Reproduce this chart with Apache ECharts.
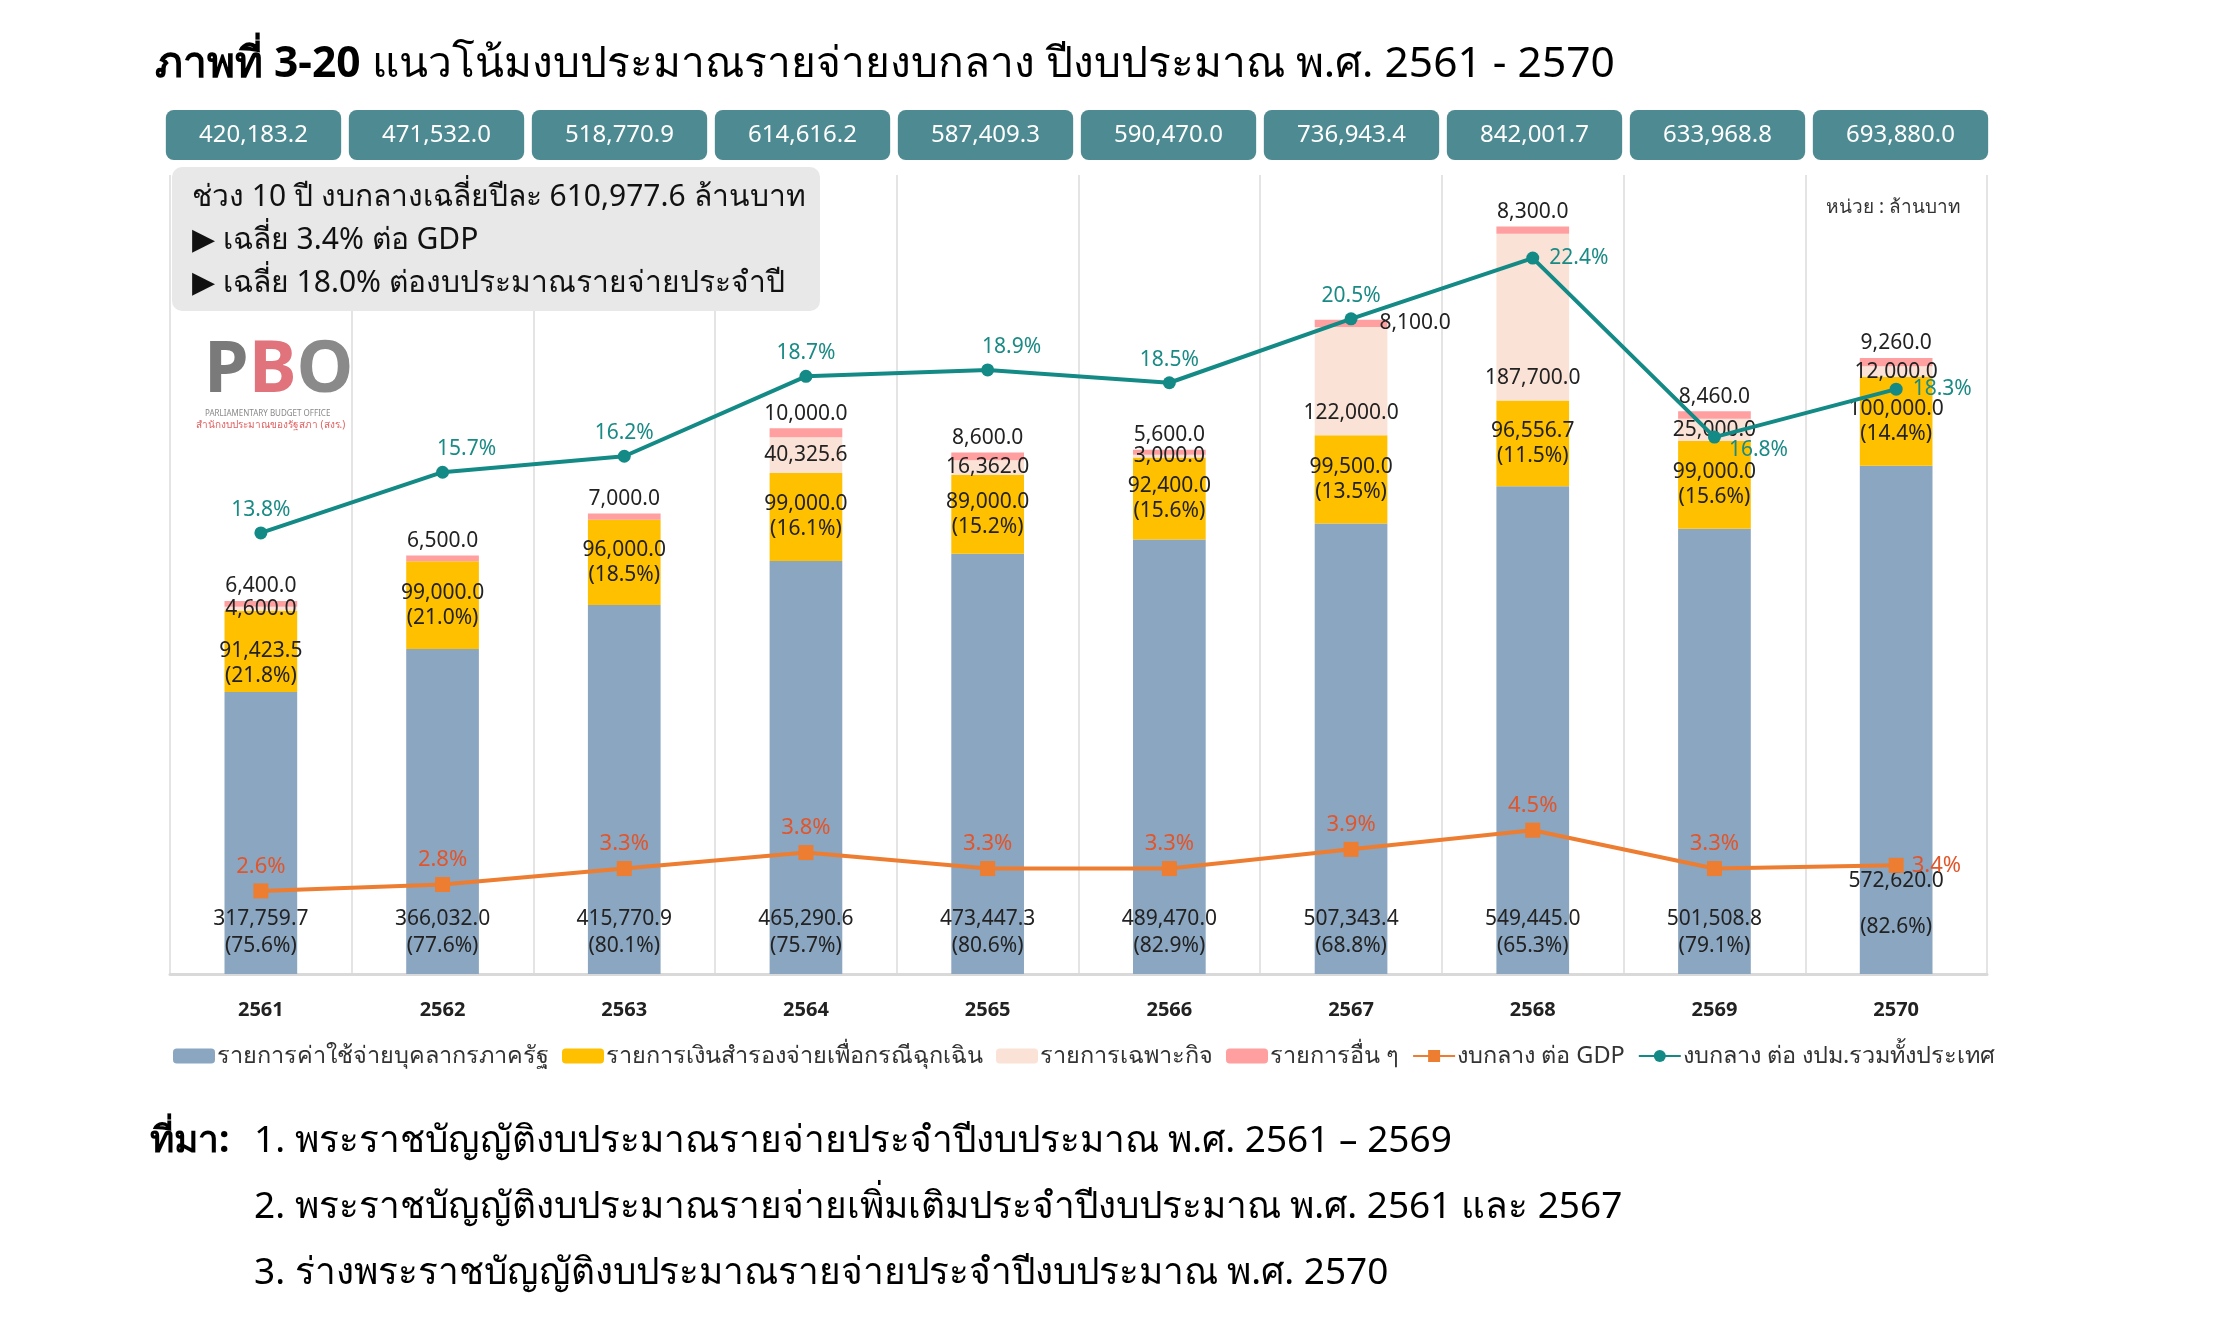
<!DOCTYPE html>
<html>
<head>
<meta charset="utf-8">
<script src="https://cdn.jsdelivr.net/npm/echarts@6.0.0/dist/echarts.min.js"></script>
<style>
  html, body { margin: 0; padding: 0; background: #fff; }
  #chart { width: 2217px; height: 1338px; }
</style>
</head>
<body>
<div id="chart"></div>
<script>
const years = ['2561', '2562', '2563', '2564', '2565', '2566', '2567', '2568', '2569', '2570']
const staffCost = [317759.7, 366032.0, 415770.9, 465290.6, 473447.3, 489470.0, 507343.4, 549445.0, 501508.8, 572620.0]
const staffShare = [75.6, 77.6, 80.1, 75.7, 80.6, 82.9, 68.8, 65.3, 79.1, 82.6]
const reserveFund = [91423.5, 99000.0, 96000.0, 99000.0, 89000.0, 92400.0, 99500.0, 96556.7, 99000.0, 100000.0]
const reserveShare = [21.8, 21.0, 18.5, 16.1, 15.2, 15.6, 13.5, 11.5, 15.6, 14.4]
const specialItems = [4600.0, 0, 0, 40325.6, 16362.0, 3000.0, 122000.0, 187700.0, 25000.0, 12000.0]
const otherItems = [6400.0, 6500.0, 7000.0, 10000.0, 8600.0, 5600.0, 8100.0, 8300.0, 8460.0, 9260.0]
const totals = [420183.2, 471532.0, 518770.9, 614616.2, 587409.3, 590470.0, 736943.4, 842001.7, 633968.8, 693880.0]
const centralToGdp = [2.6, 2.8, 3.3, 3.8, 3.3, 3.3, 3.9, 4.5, 3.3, 3.4]
const centralToBudget = [13.8, 15.7, 16.2, 18.7, 18.9, 18.5, 20.5, 22.4, 16.8, 18.3]

const seriesNames = [
  'รายการค่าใช้จ่ายบุคลากรภาครัฐ',
  'รายการเงินสำรองจ่ายเพื่อกรณีฉุกเฉิน',
  'รายการเฉพาะกิจ',
  'รายการอื่น ๆ',
  'งบกลาง ต่อ GDP',
  'งบกลาง ต่อ งปม.รวมทั้งประเทศ',
]
const sources = [
  '1. พระราชบัญญัติงบประมาณรายจ่ายประจำปีงบประมาณ พ.ศ. 2561 – 2569',
  '2. พระราชบัญญัติงบประมาณรายจ่ายเพิ่มเติมประจำปีงบประมาณ พ.ศ. 2561 และ 2567',
  '3. ร่างพระราชบัญญัติงบประมาณรายจ่ายประจำปีงบประมาณ พ.ศ. 2570',
]

const FONT = '"Noto Sans", sans-serif'
const fmt = v => v.toLocaleString('en-US', { minimumFractionDigits: 1, maximumFractionDigits: 1 })

const chart = echarts.init(document.getElementById('chart'))

const option = {
  backgroundColor: '#fff',
  animation: false,
  textStyle: { fontFamily: FONT },
  title: {
    left: 150,
    top: 38,
    text: '{b|ภาพที่ 3-20\u00a0}{r|แนวโน้มงบประมาณรายจ่ายงบกลาง ปีงบประมาณ พ.ศ. 2561 - 2570}',
    textStyle: {
      rich: {
        b: { fontSize: 42.5, fontWeight: 'bold', color: '#000', fontFamily: FONT },
        r: { fontSize: 42.5, fontWeight: 'normal', color: '#000', fontFamily: FONT },
      },
    },
  },
  legend: {
    left: 168,
    top: 1039,
    itemWidth: 42,
    itemHeight: 15,
    itemGap: 13,
    textStyle: { fontSize: 23.5, color: '#333', padding: [0, 0, 0, -3] },
    data: seriesNames,
  },
  grid: [
    { left: 170, right: 230, top: 175, bottom: 364 },
    { left: 162, right: 225, top: 110, height: 50 },
  ],
  xAxis: [
    {
      type: 'category',
      data: years,
      gridIndex: 0,
      axisTick: { show: false },
      axisLine: { lineStyle: { color: '#d9d9d9', width: 3 } },
      axisLabel: { color: '#222', fontSize: 20, fontWeight: 'bold', margin: 26 },
      splitLine: { show: true, lineStyle: { color: '#e4e4e4', width: 2 } },
    },
    {
      type: 'category',
      data: years,
      gridIndex: 1,
      show: false,
    },
  ],
  yAxis: [
    { type: 'value', min: 0, max: 900000, gridIndex: 0, show: false },
    { type: 'value', min: 0, max: 25, gridIndex: 0, show: false },
    { type: 'value', min: 0, max: 1, gridIndex: 1, show: false },
  ],
  graphic: [
    {
      type: 'rect',
      z: 100,
      shape: { x: 172, y: 167, width: 648, height: 144, r: 10 },
      style: { fill: '#e8e8e8' },
    },
    {
      type: 'text',
      z: 101,
      left: 192,
      top: 176,
      style: {
        text: 'ช่วง 10 ปี งบกลางเฉลี่ยปีละ 610,977.6 ล้านบาท\n▶ เฉลี่ย 3.4% ต่อ GDP\n▶ เฉลี่ย 18.0% ต่องบประมาณรายจ่ายประจำปี',
        font: '30px ' + FONT,
        lineHeight: 43,
        fill: '#111',
      },
    },
    {
      type: 'text',
      z: 101,
      left: 1826,
      top: 198,
      style: { text: 'หน่วย : ล้านบาท', font: '19px ' + FONT, fill: '#333' },
    },
    // logo placeholder
    {
      type: 'text',
      z: 101,
      left: 204,
      top: 335,
      style: {
        text: '{p|P}{b|B}{o|O}',
        rich: {
          p: { fontSize: 72, fontWeight: 'bold', fill: '#7a7a7a', fontFamily: FONT },
          b: { fontSize: 72, fontWeight: 'bold', fill: '#e0737b', fontFamily: FONT },
          o: { fontSize: 72, fontWeight: 'bold', fill: '#8a8a8a', fontFamily: FONT },
        },
      },
    },
    {
      type: 'text',
      z: 101,
      left: 205,
      top: 410,
      style: { text: 'PARLIAMENTARY BUDGET OFFICE', font: '8px ' + FONT, fill: '#888' },
    },
    {
      type: 'text',
      z: 101,
      left: 196,
      top: 420,
      style: { text: 'สำนักงบประมาณของรัฐสภา (สงร.)', font: '10px ' + FONT, fill: '#e06060' },
    },
    {
      type: 'text',
      x: 150,
      y: 1141,
      style: { text: 'ที่มา:', font: 'bold 37px ' + FONT, fill: '#000', verticalAlign: 'middle' },
    },
    ...sources.map((s, i) => ({
      type: 'text',
      x: 254,
      y: 1141 + i * 66,
      style: { text: s, font: '37px ' + FONT, fill: '#000', verticalAlign: 'middle' },
    })),
  ],
  series: [
    {
      name: 'totals',
      type: 'bar',
      xAxisIndex: 1,
      yAxisIndex: 2,
      barWidth: '95.8%',
      silent: true,
      itemStyle: { color: '#4e8a91', borderRadius: 8 },
      label: {
        show: true,
        position: 'inside',
        color: '#fff',
        fontSize: 24,
        formatter: p => fmt(totals[p.dataIndex]),
      },
      data: totals.map(() => 1),
    },
    {
      name: seriesNames[0],
      type: 'bar',
      stack: 'budget',
      barWidth: '40%',
      itemStyle: { color: '#8aa6c1' },
      label: {
        show: true,
        position: 'insideBottom',
        distance: 14,
        color: '#222',
        fontSize: 21,
        lineHeight: 27,
        formatter: p => fmt(p.value) + '\n(' + staffShare[p.dataIndex].toFixed(1) + '%)',
      },
      data: staffCost.map((v, i) => i === 9
        ? { value: v, label: { lineHeight: 46, distance: 24 } }
        : v),
    },
    {
      name: seriesNames[1],
      type: 'bar',
      stack: 'budget',
      itemStyle: { color: '#ffc000' },
      label: {
        show: true,
        position: 'inside',
        color: '#222',
        fontSize: 21,
        lineHeight: 25,
        formatter: p => fmt(p.value) + '\n(' + reserveShare[p.dataIndex].toFixed(1) + '%)',
      },
      data: reserveFund.map((v, i) => i === 0
        ? { value: v, label: { offset: [0, 12] } }
        : v),
    },
    {
      name: seriesNames[2],
      type: 'bar',
      stack: 'budget',
      itemStyle: { color: '#fbe2d6' },
      label: {
        show: true,
        position: 'inside',
        color: '#222',
        fontSize: 21,
        formatter: p => (p.value ? fmt(p.value) : ''),
      },
      data: specialItems.map(v => v > 100000
        ? { value: v, label: { position: 'insideBottom', distance: 12 } }
        : v),
    },
    {
      name: seriesNames[3],
      type: 'bar',
      stack: 'budget',
      itemStyle: { color: '#ff9f9f' },
      label: {
        show: true,
        position: 'top',
        distance: 4,
        color: '#222',
        fontSize: 21,
        formatter: p => fmt(p.value),
      },
      data: otherItems.map((v, i) => i === 6
        ? { value: v, label: { position: 'right', distance: -8 } }
        : v),
    },
    {
      name: seriesNames[4],
      type: 'line',
      yAxisIndex: 1,
      symbol: 'rect',
      symbolSize: 15,
      z: 5,
      lineStyle: { color: '#ed7d31', width: 4 },
      itemStyle: { color: '#ed7d31' },
      label: {
        show: true,
        position: 'top',
        distance: 6,
        color: '#e2552a',
        fontSize: 22,
        formatter: p => p.value.toFixed(1) + '%',
      },
      data: centralToGdp.map((v, i) => i === 9
        ? { value: v, label: { position: 'right', distance: 8 } }
        : v),
    },
    {
      name: seriesNames[5],
      type: 'line',
      yAxisIndex: 1,
      symbol: 'circle',
      symbolSize: 13,
      z: 6,
      lineStyle: { color: '#138a85', width: 4 },
      itemStyle: { color: '#138a85' },
      label: {
        show: true,
        position: 'top',
        distance: 6,
        color: '#1a8a85',
        fontSize: 21,
        formatter: p => p.value.toFixed(1) + '%',
      },
      data: centralToBudget.map((v, i) => {
        if (i === 7 || i === 9) return { value: v, label: { position: 'right', distance: 10 } }
        if (i === 8) return { value: v, label: { position: 'right', distance: 8, offset: [0, 13] } }
        if (i === 1 || i === 4) return { value: v, label: { offset: [24, 0] } }
        return v
      }),
    },
  ],
}

chart.setOption(option)
</script>
</body>
</html>
